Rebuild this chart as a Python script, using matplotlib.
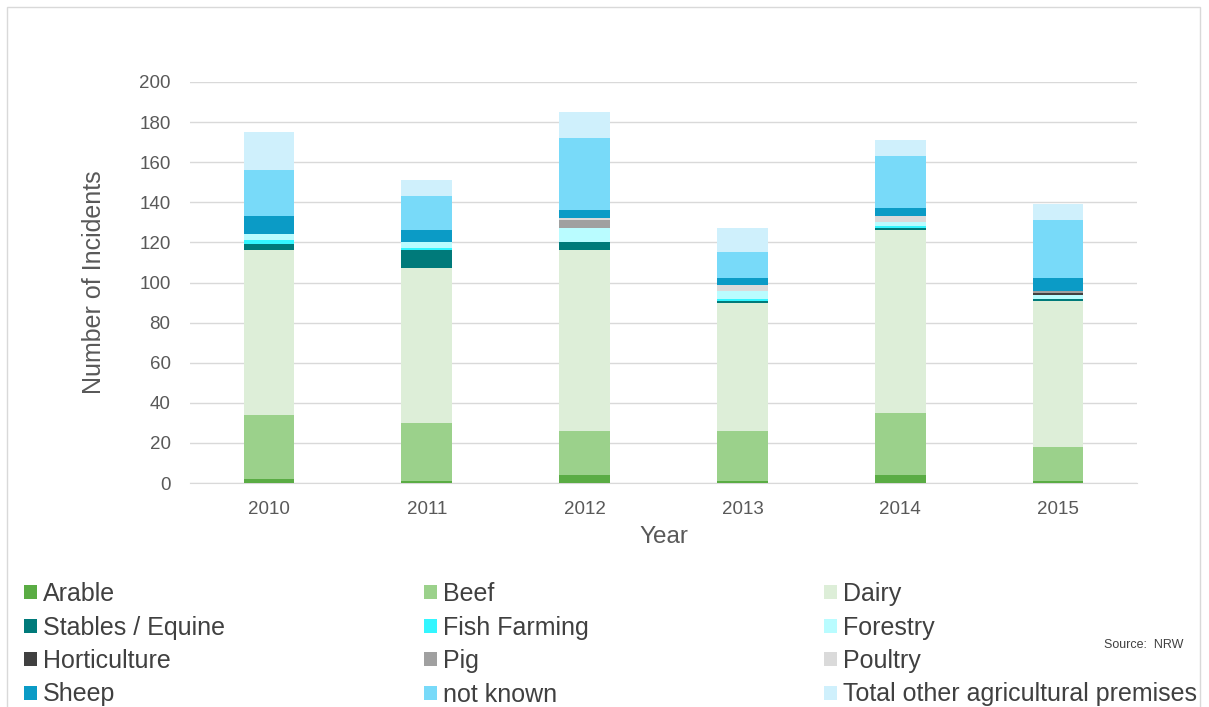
import numpy as np
import matplotlib
matplotlib.use("Agg")
import matplotlib.pyplot as plt
from matplotlib.patches import Patch, Rectangle

plt.rcParams['font.family'] = ['Liberation Sans', 'DejaVu Sans']

years = ['2010', '2011', '2012', '2013', '2014', '2015']

arable = [2, 1, 4, 1, 4, 1]
beef = [32, 29, 22, 25, 31, 17]
dairy = [82, 77, 90, 64, 91, 73]
stables = [3, 9, 4, 1, 1, 1]
fish_farming = [2, 1, 0, 1, 1, 0]
forestry = [3, 3, 7, 4, 2, 2]
horticulture = [0, 0, 0, 0, 0, 1]
pig = [0, 0, 4, 0, 0, 1]
poultry = [0, 0, 1, 3, 3, 0]
sheep = [9, 6, 4, 3, 4, 6]
not_known = [23, 17, 36, 13, 26, 29]
total_other = [19, 8, 13, 12, 8, 8]

series = [
    ('Arable', arable, '#5aac44'),
    ('Beef', beef, '#9bd18b'),
    ('Dairy', dairy, '#ddeed8'),
    ('Stables / Equine', stables, '#007a7a'),
    ('Fish Farming', fish_farming, '#33f6ff'),
    ('Forestry', forestry, '#b9fcff'),
    ('Horticulture', horticulture, '#404040'),
    ('Pig', pig, '#a0a0a0'),
    ('Poultry', poultry, '#dadada'),
    ('Sheep', sheep, '#0b9bc6'),
    ('not known', not_known, '#78daf9'),
    ('Total other agricultural premises', total_other, '#cff0fc'),
]

fig = plt.figure(figsize=(12.09, 7.07), dpi=100)
ax = fig.add_axes([190 / 1209, 1 - 483 / 707, 947 / 1209, 401 / 707])

x = np.arange(len(years))
bottom = np.zeros(len(years))
for name, vals, col in series:
    ax.bar(x, vals, width=0.32, bottom=bottom, color=col, label=name, zorder=3)
    bottom += np.array(vals)

ax.set_xlim(-0.5, len(years) - 0.5)
ax.set_ylim(0, 200)
ax.set_yticks(range(0, 201, 20))
ax.set_xticks(x)
ax.set_xticklabels(years)
ax.grid(axis='y', color='#d9d9d9', linewidth=1, zorder=0)
for s in ['left', 'right', 'top']:
    ax.spines[s].set_visible(False)
ax.spines['bottom'].set_color('#d9d9d9')
ax.tick_params(axis='both', length=0, labelsize=13.5, colors='#595959')
ax.tick_params(axis='y', pad=14)
ax.tick_params(axis='x', pad=13)
ax.set_ylabel('Number of Incidents', fontsize=18, color='#595959', labelpad=24)
ax.set_xlabel('Year', fontsize=17.5, color='#595959', labelpad=6)

# legend: three columns filled row by row
handles = [Patch(facecolor=c, edgecolor='none') for _, _, c in series]
labels = [n for n, _, _ in series]
col_x = [24 / 1209, 424 / 1209, 824 / 1209]
for i in range(3):
    idx = [i, i + 3, i + 6, i + 9]
    fig.legend([handles[j] for j in idx], [labels[j] for j in idx],
               loc='upper left', bbox_to_anchor=(col_x[i], 1 - 582 / 707),
               frameon=False, fontsize=18, labelcolor='#404040',
               handlelength=0.5, handleheight=0.5, handletextpad=0.25,
               labelspacing=0.38, borderaxespad=0, borderpad=0)

fig.text(1104 / 1209, 1 - 645 / 707, 'Source:  NRW', fontsize=9, color='#404040',
         va='center', ha='left')

fig.patches.append(Rectangle((7 / 1209, -0.01), 1193 / 1209, 1 - 7 / 707 + 0.01,
                             transform=fig.transFigure, fill=False,
                             edgecolor='#d9d9d9', linewidth=1))

fig.savefig('out.png', dpi=100)
